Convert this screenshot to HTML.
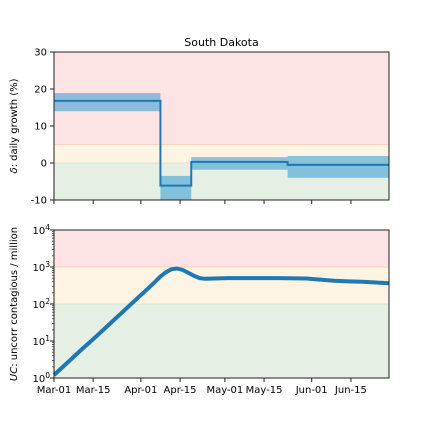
<!DOCTYPE html>
<html><head><meta charset="utf-8"><style>
body{margin:0;background:#fff;}
svg{font-family:"DejaVu Sans","Liberation Sans",sans-serif;font-size:10px;}
</style></head><body>
<svg id="c" width="432" height="432" viewBox="0 0 432 432" xmlns="http://www.w3.org/2000/svg"></svg>
<script>
// ---- data ----
const xTickLabels = ["Mar-01","Mar-15","Apr-01","Apr-15","May-01","May-15","Jun-01","Jun-15"];
const xTickDays = [0,14,31,45,61,75,92,106];
const segStart = [0,38,49,83.4];
const segEnd = [38,49,83.4,119.6];
const segValue = [16.8,-6.1,0.3,-0.5];
const segLow = [14,-12,-1.8,-4];
const segHigh = [18.9,-3.5,1.6,1.9];
const topTicks = [-10,0,10,20,30];
const ucDays = [0,5,10,15,20,25,30,35,38,40,42,44,46,48,50,52,54,57,62,70,80,90,95,100,105,110,115,119.6];
const ucLog = [0.08,0.43,0.78,1.12,1.47,1.82,2.17,2.52,2.74,2.86,2.94,2.96,2.92,2.84,2.76,2.70,2.68,2.69,2.70,2.70,2.70,2.69,2.66,2.63,2.61,2.60,2.58,2.56];
const botTicks = [0,1,2,3,4];

const NS="http://www.w3.org/2000/svg";
const svg=document.getElementById('c');
const X0=54,X1=389,DMAX=119.6;
const x=d=>X0+(X1-X0)*d/DMAX;
const T0=52,T1=200; const yt=v=>T1-(v+10)/40*(T1-T0);
const B0=230,B1=378; const yb=l=>B1-l/4*(B1-B0);
function el(tag,attrs,txt){const e=document.createElementNS(NS,tag);for(const k in attrs)e.setAttribute(k,attrs[k]);if(txt!==undefined)e.textContent=txt;svg.appendChild(e);return e;}

// ---- top panel ----
let r;
r=el('rect',{x:X0,y:T0,width:X1-X0,height:yt(5)-T0,fill:'#fde3e4'});

r=el('rect',{x:X0,y:yt(5),width:X1-X0,height:yt(0)-yt(5),fill:'#fdf4e4'});

r=el('rect',{x:X0,y:yt(0),width:X1-X0,height:T1-yt(0),fill:'#e5efe3'});

el('line',{x1:X0,x2:X1,y1:yt(5),y2:yt(5),stroke:'#fcd2b4','stroke-width':1});
el('line',{x1:X0,x2:X1,y1:yt(0),y2:yt(0),stroke:'#dfe3c4','stroke-width':1});
const cp=el('clipPath',{id:'tc'});const cr=document.createElementNS(NS,'rect');
cr.setAttribute('x',X0);cr.setAttribute('y',T0);cr.setAttribute('width',X1-X0);cr.setAttribute('height',T1-T0);cp.appendChild(cr);
for(let i=0;i<segStart.length;i++){
  const b=el('rect',{x:x(segStart[i]),y:yt(segHigh[i]),width:x(segEnd[i])-x(segStart[i]),height:yt(segLow[i])-yt(segHigh[i]),fill:'rgb(70,165,215)','fill-opacity':0.62,'clip-path':'url(#tc)'});
  
  
}
let d='';
for(let i=0;i<segStart.length;i++){d+=(i?'L':'M')+x(segStart[i])+','+yt(segValue[i])+'L'+x(segEnd[i])+','+yt(segValue[i]);}
const gl=el('path',{d:d,fill:'none',stroke:'#1f77b4','stroke-width':2});


el('rect',{x:X0,y:T0,width:X1-X0,height:T1-T0,fill:'none',stroke:'#222','stroke-width':1});
topTicks.forEach(v=>{el('line',{x1:X0-4,x2:X0,y1:yt(v),y2:yt(v),stroke:'#222'});
  const t=el('text',{x:X0-7,y:yt(v)+3.5,'text-anchor':'end'},String(v));
  });
xTickDays.forEach(dd=>{el('line',{x1:x(dd),x2:x(dd),y1:T1,y2:T1+4,stroke:'#222'});});
let t=el('text',{x:(X0+X1)/2,y:46,'text-anchor':'middle','font-size':'11'},'South Dakota');

t=el('text',{transform:'translate(17,126) rotate(-90)','text-anchor':'middle'});
t.innerHTML='<tspan font-style="italic">δ</tspan>: daily growth (%)';


// ---- bottom panel ----
r=el('rect',{x:X0,y:B0,width:X1-X0,height:yb(3)-B0,fill:'#fde3e4'});

r=el('rect',{x:X0,y:yb(3),width:X1-X0,height:yb(2)-yb(3),fill:'#fdf4e4'});

r=el('rect',{x:X0,y:yb(2),width:X1-X0,height:B1-yb(2),fill:'#e5efe3'});

el('line',{x1:X0,x2:X1,y1:yb(3),y2:yb(3),stroke:'#fcd2b4'});
el('line',{x1:X0,x2:X1,y1:yb(2),y2:yb(2),stroke:'#dfe3c4'});
let pd='';ucDays.forEach((dd,i)=>{pd+=(i?'L':'M')+x(dd).toFixed(1)+','+yb(ucLog[i]).toFixed(1);});
const ul=el('path',{d:pd,fill:'none',stroke:'#1f77b4','stroke-width':4,'stroke-linejoin':'round'});


el('rect',{x:X0,y:B0,width:X1-X0,height:B1-B0,fill:'none',stroke:'#222'});
botTicks.forEach(v=>{el('line',{x1:X0-4,x2:X0,y1:yb(v),y2:yb(v),stroke:'#222'});
  const tt=el('text',{x:X0-4,y:yb(v)+4,'text-anchor':'end','font-size':'10'});
  tt.innerHTML='10<tspan dy="-4" font-size="7.5">'+v+'</tspan>';
  
  if(v<4)for(let m=2;m<10;m++){const yy=yb(v+Math.log10(m));el('line',{x1:X0-2,x2:X0,y1:yy,y2:yy,stroke:'#222','stroke-width':0.7});}
});
xTickDays.forEach((dd,i)=>{el('line',{x1:x(dd),x2:x(dd),y1:B1,y2:B1+4,stroke:'#222'});
  const tt=el('text',{x:x(dd),y:B1+15,'text-anchor':'middle'},xTickLabels[i]);
  });
t=el('text',{transform:'translate(17,304) rotate(-90)','text-anchor':'middle'});
t.innerHTML='<tspan font-style="italic">UC</tspan>: uncorr contagious / million';

</script>
</body></html>
